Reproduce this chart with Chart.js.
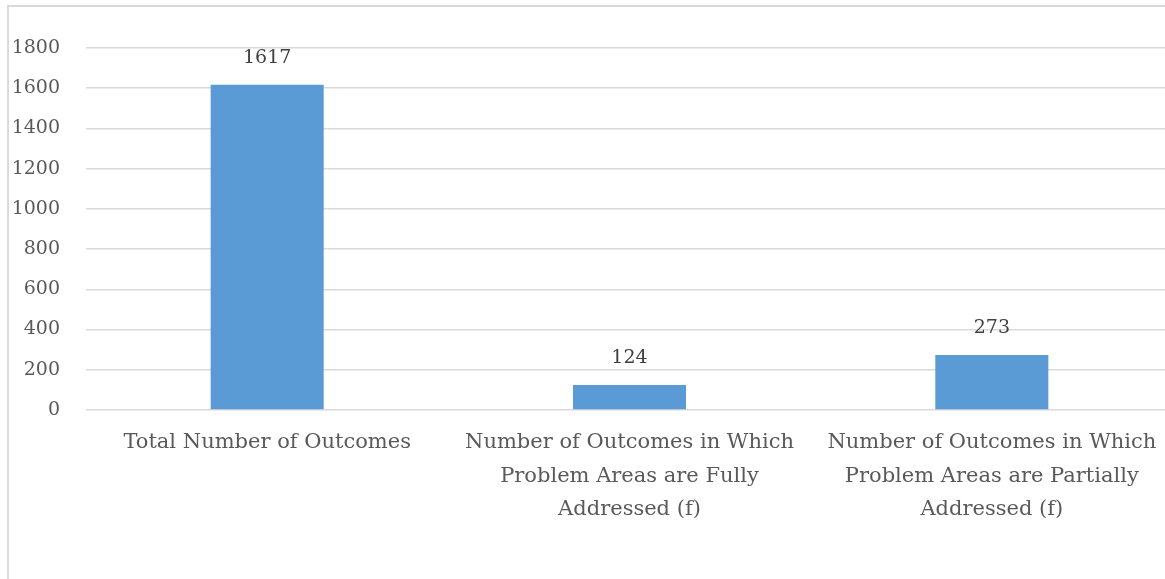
<!DOCTYPE html>
<html>
<head>
<meta charset="utf-8">
<script src="https://cdn.jsdelivr.net/npm/chart.js@4"></script>
<style>
  html, body { margin: 0; padding: 0; background: #ffffff; overflow: hidden; width: 1165px; height: 579px; }
  #frame { position: absolute; left: 7px; top: 5px; width: 1200px; height: 620px; border: 2px solid #d9d9d9; box-sizing: border-box; }
  #c { position: absolute; left: 0; top: 0; }
</style>
</head>
<body>
<div id="frame"></div>
<canvas id="c" width="1173" height="579"></canvas>
<script>
// Outcome counts by category
const categories = [
  ["Total Number of Outcomes"],
  ["Number of Outcomes in Which", "Problem Areas are Fully", "Addressed (f)"],
  ["Number of Outcomes in Which", "Problem Areas are Partially", "Addressed (f)"]
];
const outcomeCounts = [1617, 124, 273];
const yTicks = [0, 200, 400, 600, 800, 1000, 1200, 1400, 1600, 1800];

const FONT = "'DejaVu Serif', 'Liberation Serif', serif";

// Writes each bar's value above it
const valueLabels = {
  id: 'valueLabels',
  afterDatasetsDraw(chart) {
    const ctx = chart.ctx;
    const meta = chart.getDatasetMeta(0);
    ctx.save();
    ctx.font = "19px " + FONT;
    ctx.fillStyle = "#404040";
    ctx.textAlign = "center";
    ctx.textBaseline = "middle";
    meta.data.forEach((bar, i) => {
      ctx.fillText(String(outcomeCounts[i]), bar.x, bar.y - 27);
    });
    ctx.restore();
  }
};

new Chart(document.getElementById('c'), {
  type: 'bar',
  data: {
    labels: categories,
    datasets: [{
      data: outcomeCounts,
      backgroundColor: '#5b9bd5',
      borderWidth: 0,
      categoryPercentage: 1,
      barPercentage: 0.312
    }]
  },
  options: {
    responsive: false,
    animation: false,
    devicePixelRatio: 1,
    layout: { padding: { top: 48, right: 0, left: 0, bottom: 0 } },
    plugins: { legend: { display: false }, tooltip: { enabled: false } },
    scales: {
      x: {
        grid: { display: false, drawTicks: false },
        border: { display: false },
        ticks: {
          color: '#595959',
          font: { family: FONT, size: 21, lineHeight: 1.6 },
          padding: 16,
          maxRotation: 0,
          autoSkip: false
        },
        afterFit(scale) { scale.height = 169; }
      },
      y: {
        min: 0,
        max: 1800,
        afterBuildTicks(scale) { scale.ticks = yTicks.map(v => ({ value: v })); },
        grid: { color: '#d9d9d9', lineWidth: 1.5, drawTicks: false },
        border: { display: false },
        ticks: {
          color: '#595959',
          font: { family: FONT, size: 19 },
          padding: 26,
          callback: (v) => String(v)
        },
        afterFit(scale) { scale.width = 86; }
      }
    }
  },
  plugins: [valueLabels]
});
</script>
</body>
</html>
